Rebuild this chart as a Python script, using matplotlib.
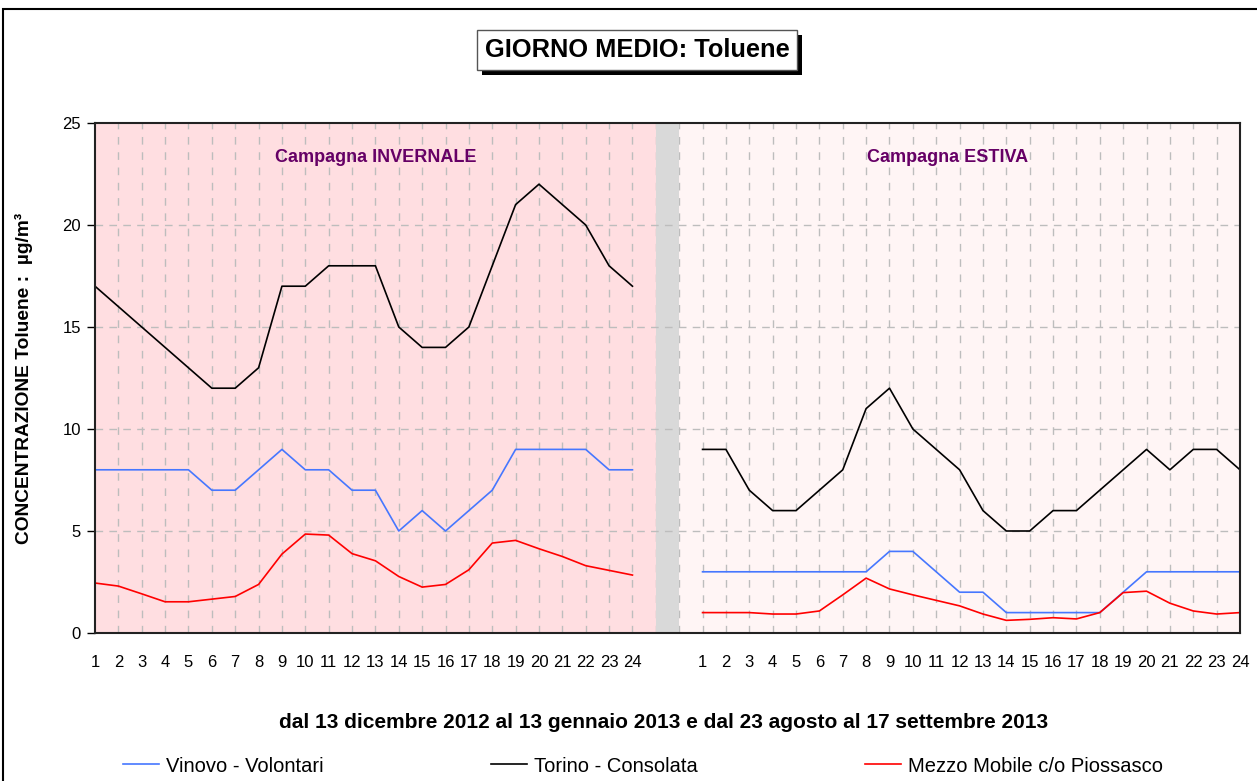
import matplotlib
matplotlib.use("Agg")
import matplotlib.pyplot as plt
from matplotlib.patches import Rectangle

plt.rcParams['font.family'] = ['Liberation Sans', 'DejaVu Sans']

hours = [str(h) for h in range(1, 25)]

torino_inv = [17, 16, 15, 14, 13, 12, 12, 13, 17, 17, 18, 18, 18, 15, 14, 14, 15, 18, 21, 22, 21, 20, 18, 17]
vinovo_inv = [8, 8, 8, 8, 8, 7, 7, 8, 9, 8, 8, 7, 7, 5, 6, 5, 6, 7, 9, 9, 9, 9, 8, 8]
mezzo_inv = [2.45, 2.3, 1.92, 1.53, 1.53, 1.66, 1.79, 2.38, 3.87, 4.85, 4.8, 3.89, 3.54, 2.77,
             2.25, 2.38, 3.1, 4.41, 4.54, 4.13, 3.75, 3.3, 3.07, 2.84]

torino_est = [9, 9, 7, 6, 6, 7, 8, 11, 12, 10, 9, 8, 6, 5, 5, 6, 6, 7, 8, 9, 8, 9, 9, 8]
vinovo_est = [3, 3, 3, 3, 3, 3, 3, 3, 4, 4, 3, 2, 2, 1, 1, 1, 1, 1, 2, 3, 3, 3, 3, 3]
mezzo_est = [1.0, 1.0, 1.0, 0.93, 0.93, 1.08, 1.87, 2.69, 2.16, 1.87, 1.6, 1.33, 0.93, 0.62,
             0.67, 0.75, 0.69, 1.0, 1.98, 2.05, 1.46, 1.08, 0.93, 1.0]

labels = ["Vinovo - Volontari", "Torino - Consolata", "Mezzo Mobile c/o Piossasco"]
colors = ["#4677FF", "#000000", "#FF0000"]

x_inv = list(range(0, 24))
x_est = list(range(26, 50))

W, H = 1257, 781
fig = plt.figure(figsize=(W / 100, H / 100), dpi=100)
ax = fig.add_axes([95/W, 1-633/H, (1240-95)/W, (633-123)/H])

ax.set_xlim(0, 49)
ax.set_ylim(0, 25)

# backgrounds
ax.axvspan(0, 24, color="#FFDEE1", zorder=0, lw=0)
ax.axvspan(25, 49, color="#FFF5F5", zorder=0, lw=0)

# grid
for xv in range(1, 49):
    ax.axvline(xv, color="#BDBDBD", lw=1.0, ls=(0, (5.5, 5.5)), zorder=1)
ax.axvspan(24, 25, color="#D9D9D9", zorder=1.5, lw=0)
for yv in [5, 10, 15, 20]:
    ax.axhline(yv, color="#BDBDBD", lw=1.0, ls=(0, (5.5, 4.5)), zorder=1.6)

for vals_i, vals_e, c, lab in [(vinovo_inv, vinovo_est, colors[0], labels[0]),
                               (torino_inv, torino_est, colors[1], labels[1]),
                               (mezzo_inv, mezzo_est, colors[2], labels[2])]:
    ax.plot(x_inv, vals_i, color=c, lw=1.2, zorder=3, label=lab)
    ax.plot(x_est, vals_e, color=c, lw=1.2, zorder=3)

ax.set_xticks(x_inv + x_est)
ax.set_xticklabels(hours + hours, fontsize=12)
ax.tick_params(axis='x', length=0, pad=16)
ax.set_yticks([0, 5, 10, 15, 20, 25])
ax.tick_params(axis='y', length=6, width=1, labelsize=12, pad=4, direction='out')

for s in ax.spines.values():
    s.set_linewidth(1.5)
    s.set_color("#222222")
    s.set_zorder(5)

ax.set_ylabel("CONCENTRAZIONE Toluene :  µg/m³", fontsize=13.8, fontweight='bold')
ax.yaxis.set_label_coords((33 - 95) / 1145, 0.5)

ax.text(12, 23.3, "Campagna INVERNALE", color="#660066", fontsize=13, fontweight='bold',
        ha='center', va='center', zorder=4)
ax.text(36.5, 23.3, "Campagna ESTIVA", color="#660066", fontsize=13, fontweight='bold',
        ha='center', va='center', zorder=4)

fig.text(664/W, 1-723/H, "dal 13 dicembre 2012 al 13 gennaio 2013 e dal 23 agosto al 17 settembre 2013",
         fontsize=15, fontweight='bold', ha='center', va='center')

# title with box
title = fig.text(637/W, 1-50/H, "GIORNO MEDIO: Toluene", fontsize=18.3, fontweight='bold',
                 ha='center', va='center', color='black', zorder=3,
                 bbox=dict(boxstyle='square,pad=0.3', fc='white', ec='#555555', lw=1))

# legend
handles, labs = ax.get_legend_handles_labels()
fig.legend(handles, labs, loc='center', bbox_to_anchor=(643/W, 1-766/H), ncol=3,
           frameon=False, fontsize=14.5, handlelength=1.8, handletextpad=0.35,
           columnspacing=8.3)

# figure border
fig.patches.append(Rectangle((3/W, -0.5), 1.5, 0.5 + 1 - 9/H, transform=fig.transFigure,
                             fill=False, ec='black', lw=1.5, clip_on=False))

# title shadow (drop shadow behind the title box)
fig.canvas.draw()
bb = title.get_bbox_patch().get_window_extent()
fig.patches.append(Rectangle(((bb.x0 + 5) / W, (bb.y0 - 5) / H), bb.width / W, bb.height / H,
                             transform=fig.transFigure, fc='black', ec='black', lw=0, zorder=1))

fig.savefig("out.png", dpi=100)
